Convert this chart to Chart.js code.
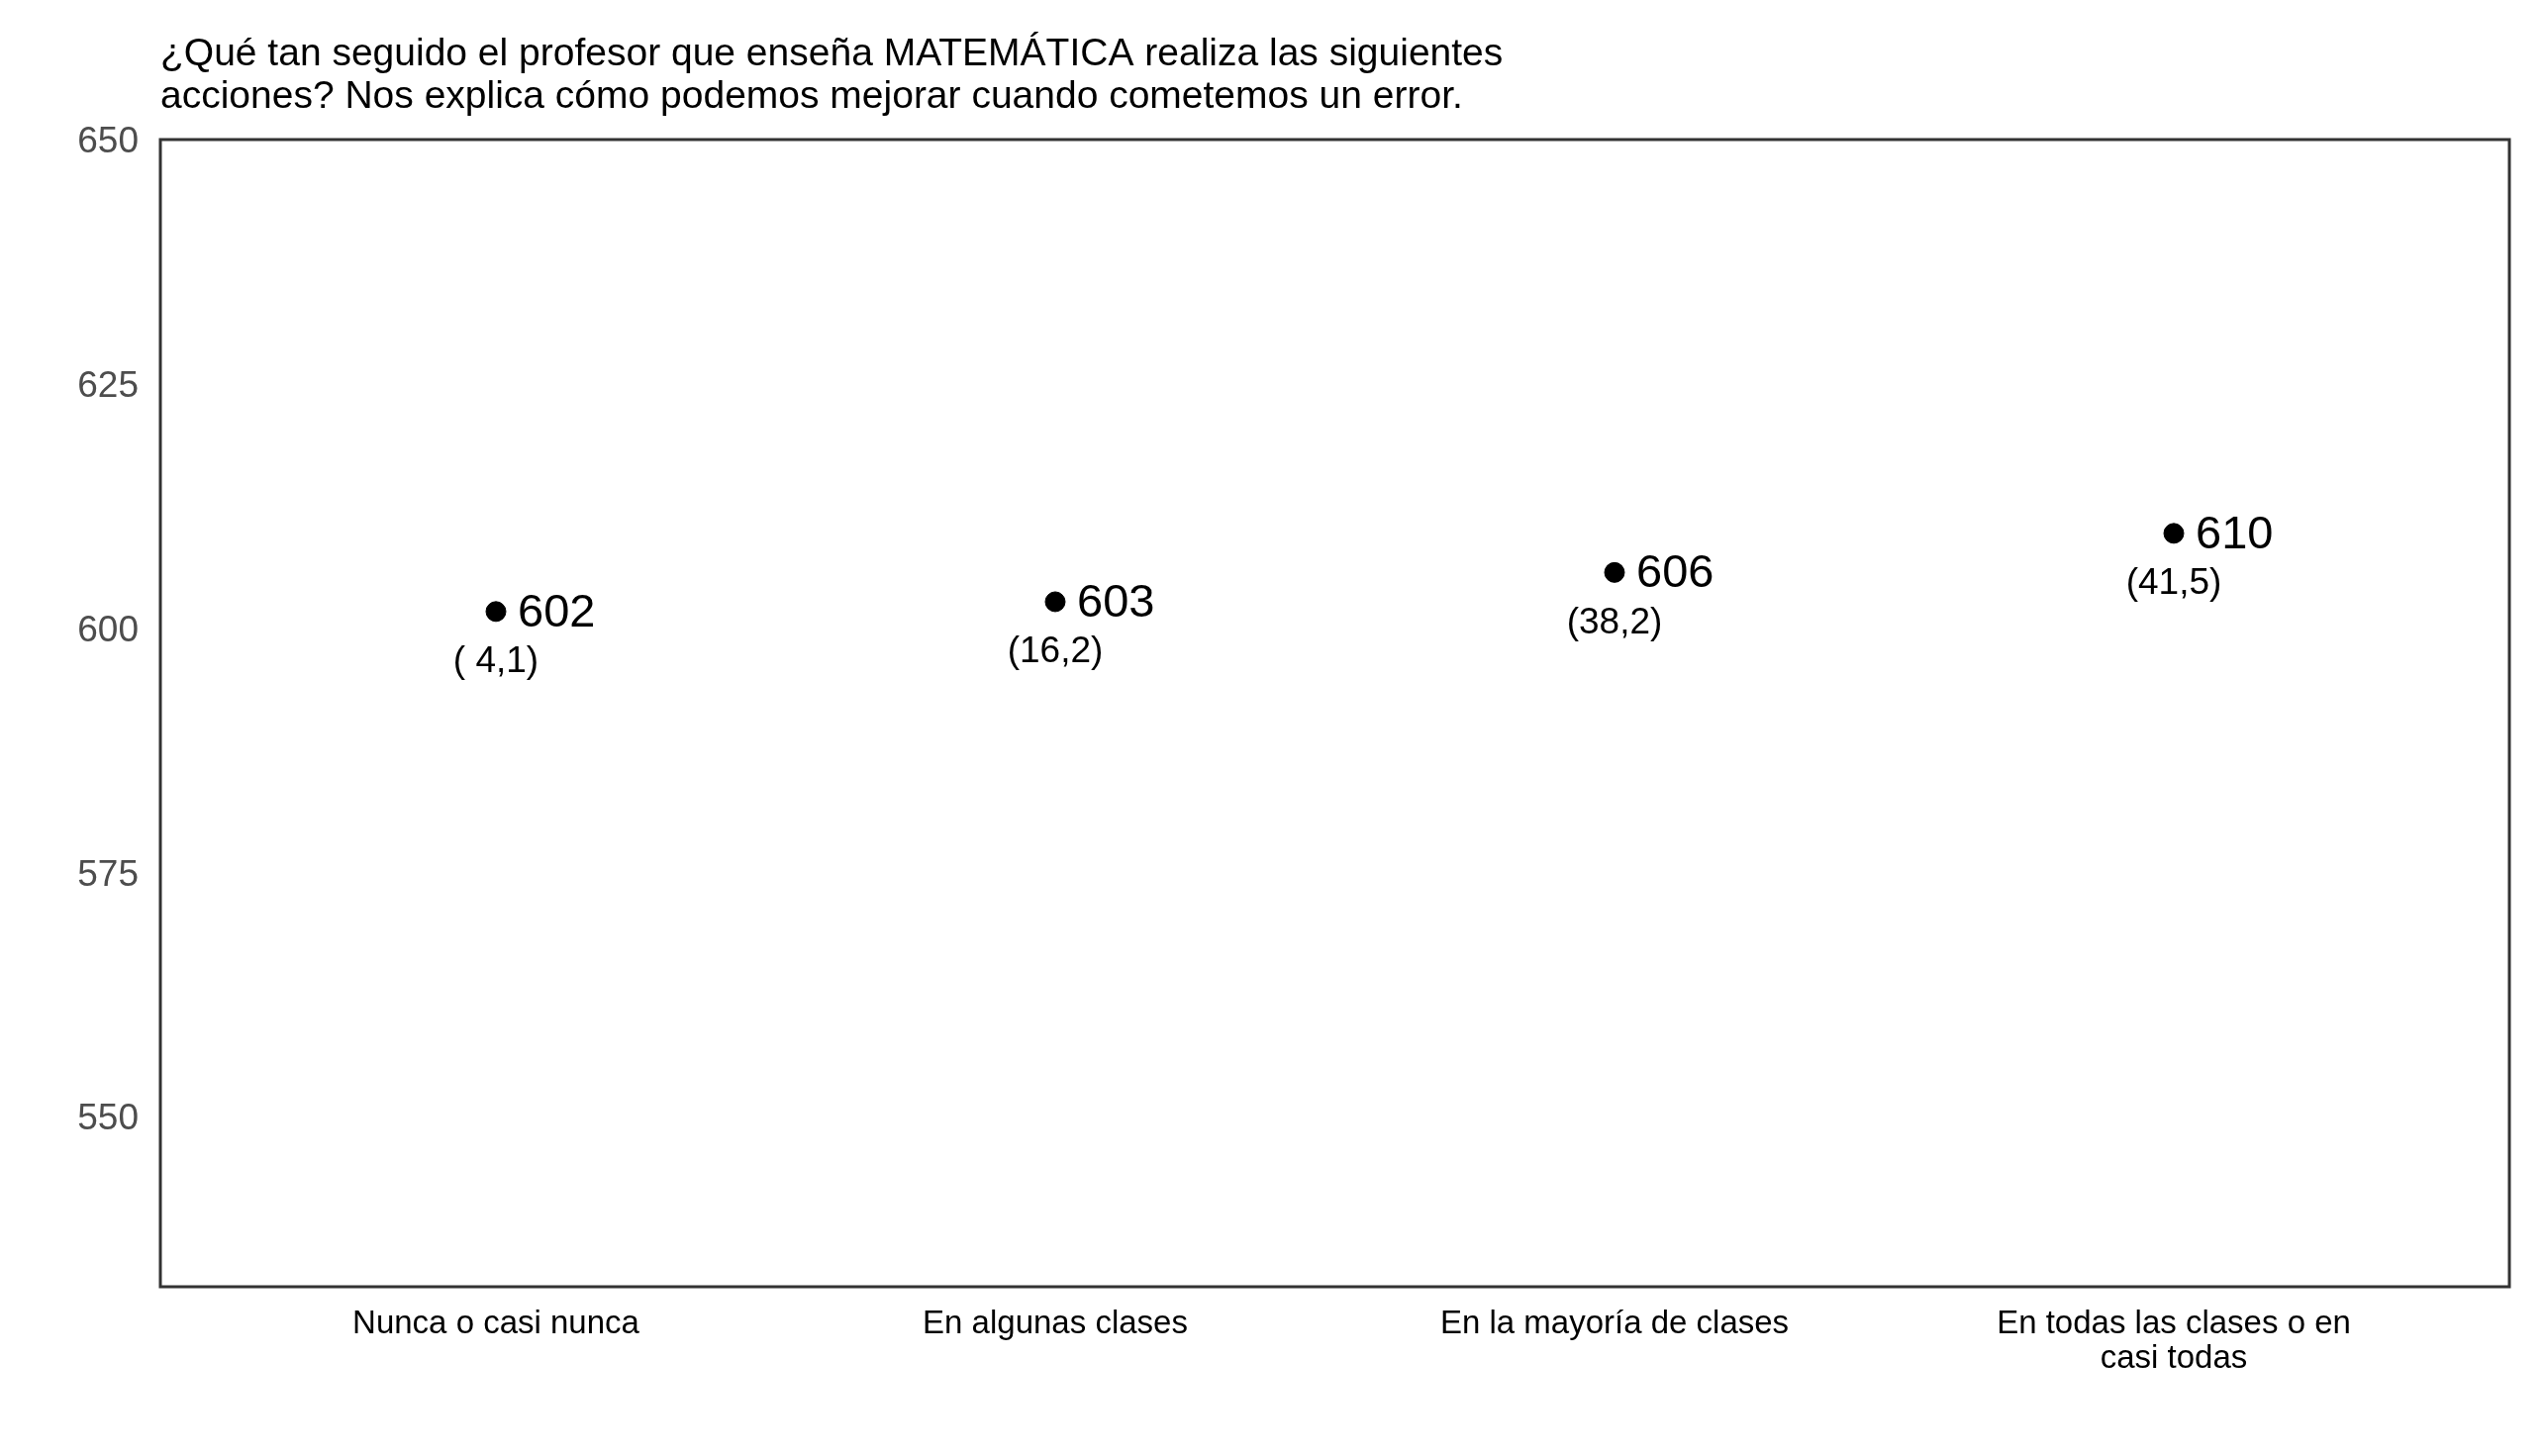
<!DOCTYPE html>
<html>
<head>
<meta charset="utf-8">
<script src="https://cdn.jsdelivr.net/npm/chart.js@4.4.1/dist/chart.umd.min.js"></script>
<style>
html,body{margin:0;padding:0;background:#fff;}
#wrap{width:2571px;height:1471px;}
</style>
</head>
<body>
<div id="wrap"><canvas id="c" width="2571" height="1471"></canvas></div>
<script>
const titleLines = [
  "¿Qué tan seguido el profesor que enseña MATEMÁTICA realiza las siguientes",
  "acciones? Nos explica cómo podemos mejorar cuando cometemos un error."
];
const categories = [
  ["Nunca o casi nunca"],
  ["En algunas clases"],
  ["En la mayoría de clases"],
  ["En todas las clases o en", "casi todas"]
];
const scores = [602, 603, 606, 610];
const percentLabels = ["( 4,1)", "(16,2)", "(38,2)", "(41,5)"];
const yTicks = [550, 575, 600, 625, 650];
const yMin = 532.9, yMax = 650.3;

const FONT = "'Liberation Sans', Arial, sans-serif";

const labelPlugin = {
  id: 'labels',
  afterDatasetsDraw(chart) {
    const ctx = chart.ctx;
    const meta = chart.getDatasetMeta(0);
    ctx.save();
    ctx.fillStyle = '#000';
    meta.data.forEach((pt, i) => {
      ctx.font = `47px ${FONT}`;
      ctx.textAlign = 'left';
      ctx.textBaseline = 'middle';
      ctx.fillText(String(scores[i]), pt.x + 22, pt.y + 2);
      ctx.font = `37px ${FONT}`;
      ctx.textAlign = 'center';
      ctx.fillText(percentLabels[i], pt.x, pt.y + 51);
    });
    ctx.restore();
  }
};

const framePlugin = {
  id: 'frame',
  afterDraw(chart) {
    const a = chart.chartArea, ctx = chart.ctx;
    ctx.save();
    ctx.strokeStyle = '#333333';
    ctx.lineWidth = 3;
    ctx.strokeRect(a.left, a.top, a.right - a.left, a.bottom - a.top);
    ctx.fillStyle = '#000';
    ctx.font = `39px ${FONT}`;
    ctx.textAlign = 'left';
    ctx.textBaseline = 'middle';
    ctx.fillText(titleLines[0], a.left, 55);
    ctx.fillText(titleLines[1], a.left, 98);
    ctx.restore();
  }
};

new Chart(document.getElementById('c'), {
  type: 'scatter',
  data: {
    datasets: [{
      data: scores.map((v, i) => ({x: i + 1, y: v})),
      backgroundColor: '#000',
      borderColor: '#000',
      pointRadius: 10,
      pointHoverRadius: 10,
      showLine: false
    }]
  },
  options: {
    responsive: false,
    devicePixelRatio: 1,
    animation: false,
    layout: {padding: {top: 141, right: 36, bottom: 0, left: 0}},
    plugins: {legend: {display: false}, tooltip: {enabled: false}, title: {display: false}},
    scales: {
      x: {
        type: 'linear',
        min: 0.4, max: 4.6,
        grid: {display: false, drawTicks: false},
        border: {display: false},
        afterBuildTicks(scale) { scale.ticks = categories.map((c, i) => ({value: i + 1})); },
        afterFit(scale) { scale.height = 171; },
        ticks: {
          padding: 21,
          color: '#000',
          font: {family: FONT, size: 33, lineHeight: 1.05},
          maxRotation: 0,
          autoSkip: false,
          callback: (v) => categories[Math.round(v) - 1]
        }
      },
      y: {
        min: yMin, max: yMax,
        grid: {display: false, drawTicks: false},
        border: {display: false},
        afterBuildTicks(scale) { scale.ticks = yTicks.map(v => ({value: v})); },
        afterFit(scale) { scale.width = 162; },
        ticks: {
          padding: 22,
          color: '#4d4d4d',
          font: {family: FONT, size: 37},
          callback: (v) => String(v)
        }
      }
    }
  },
  plugins: [labelPlugin, framePlugin]
});
</script>
</body>
</html>
